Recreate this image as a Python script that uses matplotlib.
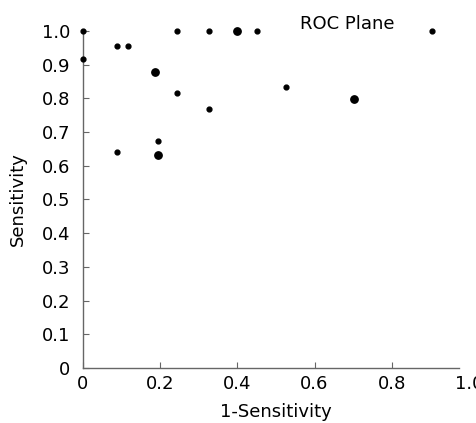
import matplotlib.pyplot as plt

# ROC plane points (1-specificity, sensitivity)
fpr_small = [0.0, 0.0, 0.088, 0.117, 0.244, 0.326, 0.452, 0.905,
             0.244, 0.326, 0.526, 0.088, 0.194]
tpr_small = [1.0, 0.916, 0.956, 0.956, 1.0, 1.0, 1.0, 1.0,
             0.815, 0.769, 0.833, 0.642, 0.674]

fpr_big = [0.187, 0.398, 0.701, 0.194]
tpr_big = [0.877, 1.0, 0.797, 0.631]

ticks = [0, 0.2, 0.4, 0.6, 0.8, 1.0]
tick_labels = ["0", "0.2", "0.4", "0.6", "0.8", "1.0"]
yticks = [0, 0.1, 0.2, 0.3, 0.4, 0.5, 0.6, 0.7, 0.8, 0.9, 1.0]
ytick_labels = ["0"] + [f"{v:.1f}" for v in yticks[1:]]

plt.rcParams['font.family'] = ['DejaVu Sans']

fig = plt.figure(figsize=(4.77, 4.23), dpi=100)
ax = fig.add_axes([0.174, 0.13, 0.809, 0.797])

ax.scatter(fpr_small, tpr_small, s=12, color="black", zorder=3, clip_on=False)
ax.scatter(fpr_big, tpr_big, s=28, color="black", zorder=3, clip_on=False)

ax.set_xlim(0, 1.0)
ax.set_ylim(0, 1.0)
ax.set_xticks(ticks)
ax.set_xticklabels(tick_labels)
ax.set_yticks(yticks)
ax.set_yticklabels(ytick_labels)

for side in ["top", "right"]:
    ax.spines[side].set_visible(False)
for side in ["left", "bottom"]:
    ax.spines[side].set_color("#666666")
    ax.spines[side].set_linewidth(1.0)
# x axis line stops a little short of 1.0, as in the original
ax.spines["bottom"].set_bounds(0, 0.975)
ax.xaxis.get_major_ticks()[-1].tick1line.set_visible(False)

ax.tick_params(direction="in", length=4, color="#666666", labelsize=13)
ax.tick_params(axis="y", pad=9)
ax.tick_params(axis="x", pad=5)

ax.set_xlabel("1-Sensitivity", fontsize=13, labelpad=7)
ax.set_ylabel("Sensitivity", fontsize=13, labelpad=11)
ax.text(0.685, 1.02, "ROC Plane", transform=ax.transAxes, fontsize=13,
        ha="center", va="center")

fig.savefig("out.png", dpi=100)
